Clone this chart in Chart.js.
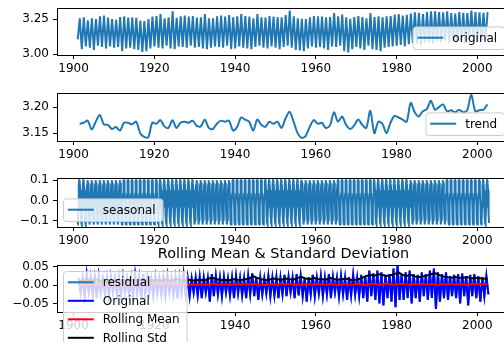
<!DOCTYPE html>
<html>
<head>
<meta charset="utf-8">
<script src="https://cdn.jsdelivr.net/npm/chart.js@4.4.1/dist/chart.umd.min.js"></script>
<style>
  html, body { margin: 0; padding: 0; background: #fff; overflow: hidden; width: 504px; height: 345px; }
  canvas { position: absolute; left: 0; }
</style>
</head>
<body>
<canvas id="c1"></canvas>
<canvas id="c2"></canvas>
<canvas id="c3"></canvas>
<canvas id="c4"></canvas>
<script>
// ---- data ----
var firstYear = 1901, lastYear = 2002;
var xTicks = [1900, 1920, 1940, 1960, 1980, 2000];

// original: yearly trough and peak
var origLow = [3.105,3.035,3.055,3.045,3.030,3.060,3.050,3.040,3.055,3.045,
  3.050,3.020,3.040,3.045,3.035,3.030,3.015,3.020,3.040,3.055,
  3.045,3.040,3.060,3.040,3.035,3.055,3.050,3.045,3.060,3.045,
  3.050,3.040,3.035,3.045,3.055,3.050,3.045,3.060,3.035,3.040,
  3.055,3.045,3.040,3.035,3.050,3.060,3.045,3.040,3.055,3.045,
  3.035,3.050,3.060,3.045,3.030,3.025,3.020,3.040,3.055,3.045,
  3.050,3.040,3.030,3.055,3.050,3.060,3.020,3.012,3.035,3.050,
  3.040,3.030,3.060,3.035,3.030,3.020,3.045,3.050,3.055,3.060,
  3.065,3.055,3.070,3.080,3.075,3.065,3.085,3.080,3.075,3.090,
  3.085,3.095,3.080,3.090,3.085,3.095,3.080,3.100,3.090,3.085,
  3.095,3.100];
var origHigh = [3.255,3.262,3.240,3.255,3.250,3.270,3.275,3.260,3.250,3.245,
  3.265,3.270,3.260,3.262,3.258,3.240,3.235,3.250,3.268,3.272,
  3.285,3.255,3.262,3.305,3.258,3.270,3.275,3.268,3.272,3.260,
  3.262,3.285,3.255,3.255,3.270,3.275,3.268,3.278,3.262,3.270,
  3.285,3.272,3.268,3.255,3.285,3.262,3.260,3.272,3.268,3.265,
  3.262,3.278,3.310,3.270,3.255,3.252,3.250,3.262,3.272,3.270,
  3.268,3.262,3.265,3.292,3.270,3.282,3.262,3.252,3.265,3.272,
  3.265,3.255,3.292,3.265,3.270,3.262,3.270,3.272,3.282,3.285,
  3.275,3.280,3.290,3.298,3.295,3.285,3.300,3.305,3.305,3.300,
  3.298,3.305,3.292,3.290,3.300,3.295,3.292,3.310,3.300,3.298,
  3.295,3.300];

// trend: one value per year
var trend = [3.168,3.170,3.174,3.157,3.172,3.185,3.167,3.166,3.158,3.162,
  3.155,3.170,3.170,3.167,3.172,3.150,3.143,3.142,3.170,3.168,
  3.175,3.163,3.160,3.175,3.160,3.170,3.172,3.170,3.174,3.164,
  3.163,3.176,3.160,3.158,3.168,3.174,3.172,3.174,3.155,3.162,
  3.180,3.176,3.172,3.155,3.176,3.166,3.162,3.172,3.168,3.172,
  3.160,3.178,3.191,3.172,3.150,3.141,3.145,3.162,3.175,3.168,
  3.170,3.160,3.165,3.190,3.172,3.182,3.166,3.158,3.165,3.176,
  3.166,3.160,3.193,3.150,3.172,3.168,3.150,3.170,3.183,3.180,
  3.176,3.172,3.208,3.190,3.182,3.192,3.196,3.212,3.195,3.200,
  3.205,3.192,3.194,3.190,3.195,3.190,3.194,3.224,3.192,3.194,
  3.195,3.205];

// seasonal: Jan..Dec
var seasonalMonths = [-0.118,-0.095,-0.030,0.030,0.075,0.098,0.099,0.085,0.050,-0.005,-0.070,-0.110];

// residual: yearly spike up and spike down
var resHigh = [0.020,0.018,0.030,0.022,0.020,0.025,0.018,0.020,0.022,0.019,
  0.020,0.024,0.018,0.020,0.028,0.022,0.030,0.020,0.018,0.022,
  0.018,0.020,0.025,0.018,0.020,0.022,0.030,0.020,0.018,0.020,
  0.022,0.020,0.018,0.030,0.025,0.020,0.022,0.018,0.020,0.025,
  0.020,0.018,0.025,0.032,0.022,0.020,0.018,0.025,0.020,0.022,
  0.020,0.028,0.022,0.020,0.030,0.025,0.020,0.022,0.028,0.020,
  0.025,0.020,0.030,0.022,0.020,0.025,0.020,0.022,0.028,0.020,
  0.028,0.025,0.040,0.032,0.040,0.035,0.028,0.030,0.045,0.055,
  0.030,0.035,0.040,0.030,0.028,0.035,0.030,0.040,0.045,0.035,
  0.030,0.035,0.025,0.028,0.030,0.032,0.025,0.028,0.030,0.025,
  0.022,0.025];
var resLow = [-0.020,-0.030,-0.018,-0.025,-0.035,-0.020,-0.022,-0.030,-0.018,-0.025,
  -0.028,-0.020,-0.025,-0.030,-0.020,-0.035,-0.025,-0.020,-0.028,-0.022,
  -0.025,-0.030,-0.020,-0.025,-0.035,-0.020,-0.025,-0.030,-0.020,-0.028,
  -0.035,-0.020,-0.045,-0.030,-0.025,-0.030,-0.020,-0.028,-0.035,-0.022,
  -0.028,-0.035,-0.025,-0.030,-0.040,-0.025,-0.022,-0.030,-0.028,-0.035,
  -0.025,-0.030,-0.020,-0.035,-0.028,-0.030,-0.045,-0.025,-0.030,-0.022,
  -0.030,-0.025,-0.035,-0.020,-0.030,-0.025,-0.040,-0.028,-0.025,-0.030,
  -0.035,-0.045,-0.030,-0.040,-0.050,-0.055,-0.035,-0.045,-0.060,-0.040,
  -0.040,-0.035,-0.050,-0.035,-0.045,-0.030,-0.040,-0.035,-0.065,-0.045,
  -0.035,-0.040,-0.030,-0.035,-0.050,-0.030,-0.055,-0.030,-0.035,-0.045,
  -0.030,-0.025];

var rollMean = [0.001,0.002,0.000,0.003,0.001,0.002,-0.001,0.002,0.001,0.003,
  0.002,0.000,0.003,0.001,0.002,0.004,0.001,0.000,0.002,0.003,
  0.001,0.002,0.004,0.001,0.000,0.002,0.003,0.001,0.002,0.000,
  0.003,0.001,0.002,0.004,0.002,0.001,0.003,0.000,0.002,0.003,
  0.001,0.004,0.002,0.003,0.001,0.002,0.000,0.003,0.002,0.001,
  0.003,0.002,0.004,0.001,0.002,0.000,0.003,0.002,0.001,0.003,
  0.002,0.001,0.003,0.002,0.000,0.002,0.003,0.001,0.002,0.004,
  0.002,0.000,0.003,0.004,0.001,0.002,0.005,0.002,0.001,0.003,
  0.004,0.002,0.001,0.003,0.002,0.004,0.001,0.003,0.002,0.000,
  0.003,0.002,0.004,0.001,0.003,0.002,0.000,0.003,0.002,0.004,
  0.002,0.003];
var rollStd = [0.012,0.013,0.014,0.012,0.015,0.013,0.012,0.014,0.013,0.012,
  0.013,0.014,0.012,0.015,0.013,0.016,0.014,0.012,0.013,0.014,
  0.012,0.015,0.013,0.012,0.016,0.014,0.013,0.015,0.012,0.014,
  0.015,0.013,0.018,0.020,0.016,0.014,0.015,0.013,0.017,0.015,
  0.014,0.016,0.018,0.025,0.020,0.016,0.014,0.015,0.018,0.016,
  0.014,0.018,0.016,0.015,0.020,0.022,0.018,0.016,0.020,0.017,
  0.016,0.015,0.020,0.017,0.015,0.016,0.018,0.015,0.014,0.016,
  0.020,0.025,0.028,0.026,0.030,0.028,0.025,0.027,0.030,0.035,
  0.028,0.025,0.028,0.024,0.022,0.024,0.026,0.030,0.033,0.028,
  0.024,0.022,0.020,0.022,0.020,0.020,0.022,0.018,0.020,0.019,
  0.018,0.017];

// ---- build point lists ----
var years = [];
for (var y = firstYear; y <= lastYear; y++) years.push(y);

var originalPts = [], trendPts = [], seasonalPts = [], residPts = [], meanPts = [], stdPts = [];
years.forEach(function(yr, i) {
  originalPts.push({x: yr + 0.04, y: origLow[i]}, {x: yr + 0.54, y: origHigh[i]});
  trendPts.push({x: yr + 0.5, y: trend[i]});
  seasonalMonths.forEach(function(v, m) { seasonalPts.push({x: yr + m / 12, y: v}); });
  residPts.push({x: yr + 0.25, y: resHigh[i]}, {x: yr + 0.75, y: resLow[i]});
  meanPts.push({x: yr + 0.5, y: rollMean[i]});
  stdPts.push({x: yr + 0.5, y: rollStd[i]});
});

var TAB_BLUE = '#1f77b4';
var FONT = '"DejaVu Sans", sans-serif';
Chart.defaults.font.family = FONT;
Chart.defaults.font.size = 12;
Chart.defaults.color = '#000';

// spines + matplotlib-like legend inside the axes
var axesDecor = {
  id: 'axesDecor',
  afterDraw: function(chart, args, opts) {
    var ctx = chart.ctx, a = chart.chartArea;
    ctx.save();
    ctx.strokeStyle = '#000';
    ctx.lineWidth = 1;
    ctx.strokeRect(Math.round(a.left) + 0.5, Math.round(a.top) + 0.5,
      Math.round(a.right - a.left), Math.round(a.bottom - a.top));

    if (opts.title) {
      ctx.font = '14.4px ' + FONT;
      ctx.fillStyle = '#000';
      ctx.textAlign = 'center';
      ctx.textBaseline = 'alphabetic';
      ctx.fillText(opts.title, (a.left + a.right) / 2, a.top - 7);
    }

    var items = chart.data.datasets;
    ctx.font = '12px ' + FONT;
    var pad = 4.8, hl = 26, tp = 9, rowH = 13, gap = 5.5, off = 6;
    var tw = 0;
    items.forEach(function(d) { tw = Math.max(tw, ctx.measureText(d.label).width); });
    var w = pad + hl + tp + tw + pad + 2;
    var h = pad * 2 + items.length * rowH + (items.length - 1) * gap;
    var x = opts.loc.indexOf('right') >= 0 ? a.right - off - w : a.left + off;
    var y = opts.loc.indexOf('lower') >= 0 ? a.bottom - off - h : a.top + off;
    ctx.beginPath();
    ctx.roundRect(x + 0.5, y + 0.5, w, h, 3);
    ctx.fillStyle = 'rgba(255,255,255,0.8)';
    ctx.fill();
    ctx.strokeStyle = '#cccccc';
    ctx.stroke();
    items.forEach(function(d, i) {
      var cy = y + pad + i * (rowH + gap) + rowH / 2;
      ctx.beginPath();
      ctx.moveTo(x + pad, cy);
      ctx.lineTo(x + pad + hl, cy);
      ctx.strokeStyle = d.borderColor;
      ctx.lineWidth = 2;
      ctx.stroke();
      ctx.fillStyle = '#000';
      ctx.textAlign = 'left';
      ctx.textBaseline = 'middle';
      ctx.fillText(d.label, x + pad + hl + tp, cy + 1);
    });
    ctx.restore();
  }
};

function line(label, pts, color, order, tension) {
  return { label: label, data: pts, borderColor: color, borderWidth: 2,
    pointRadius: 0, tension: tension || 0, fill: false, order: order || 0 };
}

var AX_LEFT = 57, AX_RIGHT = 510, PAD_TOP = 22, X_H = 30;

function panel(id, top, bottom, yMin, yMax, yTicks, yLabels, datasets, loc, title) {
  var cv = document.getElementById(id);
  var H = bottom - top + PAD_TOP + X_H;
  cv.width = AX_RIGHT + 20; cv.height = H;
  cv.style.top = (top - PAD_TOP) + 'px';
  cv.style.width = cv.width + 'px'; cv.style.height = H + 'px';
  return new Chart(cv, {
    type: 'line',
    data: { datasets: datasets },
    options: {
      responsive: false, animation: false, events: [],
      layout: { padding: { top: PAD_TOP, right: 20, left: 0, bottom: 0 }, autoPadding: false },
      scales: {
        x: {
          type: 'linear', min: 1895.9, max: 2008.1,
          afterBuildTicks: function(s) { s.ticks = xTicks.map(function(v) { return {value: v}; }); },
          afterFit: function(s) { s.height = X_H; },
          grid: { display: true, drawOnChartArea: false, drawTicks: true, tickLength: 4, color: '#000' },
          border: { display: false },
          ticks: { maxRotation: 0, padding: 3, callback: function(v) { return String(v); } }
        },
        y: {
          type: 'linear', min: yMin, max: yMax,
          afterBuildTicks: function(s) { s.ticks = yTicks.map(function(v) { return {value: v}; }); },
          afterFit: function(s) { s.width = AX_LEFT; },
          grid: { display: true, drawOnChartArea: false, drawTicks: true, tickLength: 4, color: '#000' },
          border: { display: false },
          ticks: { padding: 4, callback: function(v, i) { return yLabels[i]; } }
        }
      },
      plugins: { legend: { display: false }, tooltip: { enabled: false },
        axesDecor: { loc: loc, title: title } }
    },
    plugins: [axesDecor]
  });
}

panel('c1', 8, 55, 2.993, 3.329, [3.00, 3.25], ['3.00', '3.25'],
  [line('original', originalPts, TAB_BLUE)], 'lower right');
panel('c2', 93, 141, 3.135, 3.227, [3.15, 3.20], ['3.15', '3.20'],
  [line('trend', trendPts, TAB_BLUE, 0, 0.3)], 'lower right');
panel('c3', 178, 227, -0.13, 0.11, [-0.1, 0, 0.1], ['\u22120.1', '0.0', '0.1'],
  [line('seasonal', seasonalPts, TAB_BLUE)], 'lower left');
panel('c4', 265, 312, -0.073, 0.055, [-0.05, 0, 0.05], ['\u22120.05', '0.00', '0.05'],
  [line('residual', residPts, TAB_BLUE, 4),
   line('Original', residPts, '#0000ff', 3),
   line('Rolling Mean', meanPts, '#ff0000', 2),
   line('Rolling Std', stdPts, '#000000', 1)],
  'upper left', 'Rolling Mean & Standard Deviation');
</script>
</body>
</html>
